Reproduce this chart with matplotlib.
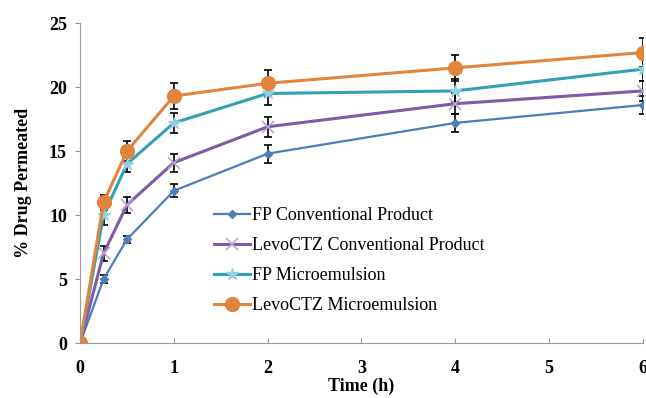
import numpy as np
import matplotlib.pyplot as plt
from matplotlib.lines import Line2D

plt.rcParams['font.family'] = ['Liberation Serif', 'DejaVu Serif']

# sampling times (h)
time_h = [0, 0.25, 0.5, 1, 2, 4, 6]

# % drug permeated, mean values
fp_conv = [0, 5.0, 8.1, 11.9, 14.8, 17.2, 18.6]
levo_conv = [0, 7.0, 10.8, 14.1, 16.9, 18.7, 19.7]
fp_me = [0, 10.0, 14.0, 17.2, 19.5, 19.7, 21.4]
levo_me = [0, 11.0, 15.0, 19.3, 20.3, 21.5, 22.7]

# error bars (SD)
fp_conv_err = [0, 0.3, 0.3, 0.5, 0.7, 0.7, 0.7]
levo_conv_err = [0, 0.6, 0.6, 0.7, 0.8, 0.8, 0.8]
fp_me_err = [0, 0.8, 0.6, 0.8, 0.9, 0.9, 0.9]
levo_me_err = [0, 0.6, 0.8, 1.0, 1.0, 1.0, 1.1]

labels = ["FP Conventional Product", "LevoCTZ Conventional Product",
          "FP Microemulsion", "LevoCTZ Microemulsion"]

fig = plt.figure(figsize=(6.46, 3.98), dpi=100)
ax = fig.add_axes([0.124, 0.138, 0.871, 0.804])

styles = [
    (fp_conv, fp_conv_err, "#4a7ebb", dict(marker="D", markersize=4, lw=1.6)),
    (levo_conv, levo_conv_err, "#7d5ba6", dict(marker="x", markersize=8, mec="#b7a5d3", mew=1.2, lw=2.2)),
    (fp_me, fp_me_err, "#31a0b8", dict(marker="*", markersize=9, mec="#92d0e0", mfc="#92d0e0", lw=2.2)),
    (levo_me, levo_me_err, "#e0853b", dict(marker="o", markersize=10, lw=2.2)),
]

handles = []
for (vals, err, color, kw), lab in zip(styles, labels):
    ax.errorbar(time_h, vals, yerr=err, color=color, ecolor="black",
                elinewidth=1.2, capsize=3, capthick=1.2, **kw)
    handles.append(Line2D([], [], color=color, label=lab, **kw))

ax.set_xlim(0, 6)
ax.set_ylim(0, 25)
ax.set_xticks(range(0, 7))
ax.set_yticks(range(0, 26, 5))
for s in ["top", "right"]:
    ax.spines[s].set_visible(False)
for s in ["left", "bottom"]:
    ax.spines[s].set_color("#999999")
ax.tick_params(axis="x", direction="in", colors="#999999", labelcolor="black", pad=12, labelsize=13)
ax.tick_params(axis="y", direction="out", colors="#999999", labelcolor="black", pad=6, labelsize=13)
for t in ax.get_xticklabels() + ax.get_yticklabels():
    t.set_fontweight("bold")

ax.set_xlabel("Time (h)", fontsize=13, fontweight="bold", labelpad=1)
ax.set_ylabel("% Drug Permeated", fontsize=13, fontweight="bold", labelpad=12)

ax.legend(handles=handles, loc="upper left", bbox_to_anchor=(0.225, 0.447), frameon=False,
          fontsize=13, handlelength=2.0, labelspacing=0.72, handletextpad=0.1,
          borderaxespad=0)

fig.savefig("out.png", dpi=100)
